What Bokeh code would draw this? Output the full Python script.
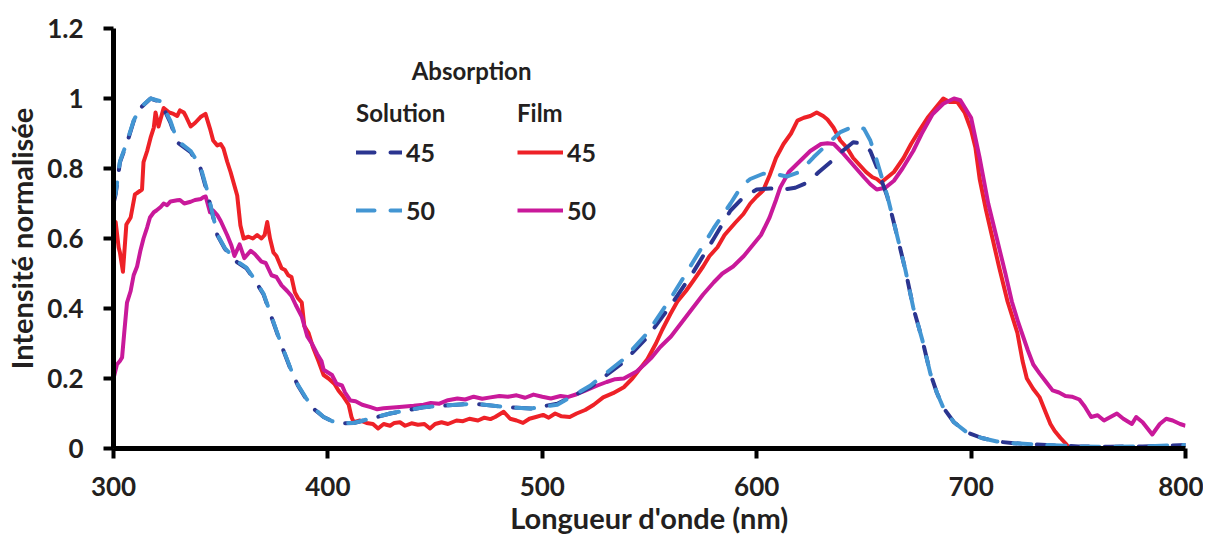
from bokeh.plotting import figure
from bokeh.models import Legend, LegendItem, Label, FixedTicker, NumeralTickFormatter, Range1d
from bokeh.embed import file_html
from bokeh.resources import INLINE

# ---------------- data ----------------
sol45_x = [300, 301, 303, 306.4, 309.4, 312.6, 317.3, 322, 326.6, 329.7, 336, 340.6, 343.7, 346.6,
           348.4, 352, 357.7, 362, 366, 370, 374, 378, 383, 386, 390, 394, 398, 402, 406, 412, 420,
           429, 444.6, 460, 468, 483.8, 494.5, 507, 522.5, 537.9, 549, 560, 570, 580, 587.8, 593.8,
           600, 606.4, 612.5, 618, 623.7, 629, 634.4, 640, 645, 650, 653, 656, 661, 665.7, 669.4,
           673, 677.3, 681, 684, 687, 692, 698, 705, 712, 720, 735, 750, 765, 780, 800]
sol45_y = [0.70, 0.726, 0.818, 0.875, 0.935, 0.973, 1.0, 0.99, 0.93, 0.875, 0.847, 0.80, 0.732, 0.658,
           0.61, 0.57, 0.532, 0.515, 0.48, 0.44, 0.37, 0.30, 0.22, 0.18, 0.14, 0.11, 0.09, 0.078, 0.072,
           0.073, 0.085, 0.10, 0.118, 0.125, 0.128, 0.118, 0.114, 0.128, 0.175, 0.247, 0.318, 0.41,
           0.50, 0.60, 0.68, 0.718, 0.74, 0.743, 0.74, 0.745, 0.76, 0.79, 0.818, 0.85, 0.875, 0.87,
           0.85, 0.804, 0.718, 0.603, 0.509, 0.403, 0.309, 0.214, 0.16, 0.117, 0.075, 0.046, 0.03,
           0.02, 0.015, 0.01, 0.006, 0.005, 0.006, 0.01]

sol50_x = [300, 301, 303, 306.4, 309.4, 312.6, 317.3, 322, 326.6, 329.7, 336, 340.6, 343.7, 346.6,
           348.4, 352, 357.7, 362, 366, 370, 374, 378, 383, 386, 390, 394, 398, 402, 406, 412, 420,
           429, 444.6, 460, 468, 483.8, 494.5, 507, 522.5, 537.9, 549, 560, 570, 580, 587.8, 593,
           597, 603, 608, 614, 620, 626.5, 633, 639, 645, 650, 653, 656, 661, 665.7, 669.4, 673,
           677.3, 681, 684, 687, 692, 698, 705, 712, 720, 735, 750, 765, 780, 800]
sol50_y = [0.71, 0.73, 0.82, 0.878, 0.937, 0.975, 1.0, 0.992, 0.935, 0.88, 0.85, 0.805, 0.737, 0.66,
           0.612, 0.572, 0.535, 0.517, 0.482, 0.442, 0.372, 0.302, 0.222, 0.182, 0.142, 0.112, 0.09,
           0.078, 0.072, 0.073, 0.086, 0.10, 0.118, 0.125, 0.128, 0.118, 0.114, 0.125, 0.18, 0.255,
           0.33, 0.43, 0.53, 0.63, 0.70, 0.75, 0.77, 0.785, 0.785, 0.777, 0.79, 0.832, 0.87, 0.904,
           0.92, 0.914, 0.88, 0.823, 0.72, 0.603, 0.509, 0.403, 0.309, 0.214, 0.16, 0.117, 0.075,
           0.046, 0.03, 0.02, 0.015, 0.01, 0.006, 0.005, 0.006, 0.01]

film45_x = [300, 301, 302.4, 303, 304.4, 306, 308, 310, 311, 313.3, 314, 315.7, 317.3, 318.8, 319.6,
            321, 323.4, 326, 328, 329.7, 331, 332.8, 333.7, 336, 338, 340.6, 342.9, 345, 346.5, 348.4,
            350, 351.3, 353, 354.6, 357.7, 359.2, 360.7, 363, 365, 367, 369, 370.5, 371.7, 373,
            374.6, 376, 378.4, 380, 381.5, 383, 384.6, 386, 387.8, 389, 391, 393, 395.6, 398, 400.3,
            403, 405, 407, 409.7, 411, 412, 415, 418, 421, 423.4, 426, 429, 431, 433.6, 436, 439,
            442, 445, 447.6, 450, 453, 456, 460, 463, 466, 470, 473, 475.8, 478, 482, 485, 488, 491,
            494, 497, 500.4, 503, 506, 509, 512.8, 516, 520, 524, 528.4, 533, 538, 542, 545.8, 549,
            553, 556, 559.8, 563, 567, 570.5, 575, 578, 581.7, 585, 590, 593.8, 597, 600, 603, 606,
            609, 612.5, 616, 619, 622, 625, 628, 631, 633, 635.8, 639, 642, 645, 648, 651, 654, 656,
            658, 661, 664, 668.5, 672, 676, 679.7, 683, 687, 690, 693.6, 697, 700, 702, 704, 707,
            710, 713, 717, 721.6, 724, 726, 729, 732, 735, 737, 739, 741.7, 744, 746, 749, 752, 755,
            758, 762, 765, 768, 772, 776, 780, 785, 790, 795, 800]
film45_y = [0.65, 0.647, 0.574, 0.56, 0.505, 0.64, 0.66, 0.726, 0.73, 0.74, 0.818, 0.85, 0.888, 0.917,
            0.96, 0.92, 0.973, 0.96, 0.956, 0.95, 0.966, 0.96, 0.95, 0.92, 0.93, 0.947, 0.956, 0.914,
            0.88, 0.866, 0.87, 0.857, 0.82, 0.79, 0.723, 0.637, 0.60, 0.605, 0.60, 0.61, 0.60, 0.61,
            0.647, 0.60, 0.56, 0.55, 0.515, 0.51, 0.495, 0.49, 0.446, 0.43, 0.417, 0.35, 0.33, 0.29,
            0.25, 0.21, 0.20, 0.185, 0.165, 0.15, 0.125, 0.09, 0.075, 0.08, 0.073, 0.07, 0.057, 0.07,
            0.065, 0.073, 0.075, 0.065, 0.072, 0.068, 0.07, 0.057, 0.07, 0.075, 0.07, 0.08, 0.078,
            0.085, 0.08, 0.088, 0.084, 0.09, 0.105, 0.085, 0.08, 0.073, 0.085, 0.09, 0.096, 0.088,
            0.10, 0.092, 0.09, 0.10, 0.11, 0.125, 0.146, 0.158, 0.175, 0.20, 0.23, 0.255, 0.30, 0.34,
            0.385, 0.42, 0.45, 0.48, 0.52, 0.55, 0.575, 0.61, 0.645, 0.67, 0.70, 0.72, 0.737, 0.78,
            0.83, 0.87, 0.90, 0.937, 0.945, 0.95, 0.96, 0.95, 0.94, 0.917, 0.88, 0.86, 0.83, 0.81,
            0.79, 0.775, 0.77, 0.76, 0.775, 0.79, 0.83, 0.87, 0.91, 0.945, 0.97, 1.0, 0.99, 0.99,
            0.96, 0.91, 0.86, 0.77, 0.68, 0.60, 0.52, 0.42, 0.33, 0.25, 0.20, 0.17, 0.146, 0.10, 0.07,
            0.05, 0.03, 0.015, 0.0, -0.01, 0.003, -0.012, -0.005, -0.015, -0.003, -0.012, 0.004,
            -0.01, -0.005, -0.015, -0.002, -0.012, -0.005]

film50_x = [300, 301.6, 303, 304, 305, 306.3, 308, 309.4, 311, 312.5, 314, 315.7, 317, 318.8, 320,
            322, 323.4, 325, 326.6, 329.7, 331, 333, 336, 338, 340.8, 342, 343, 345, 346.5, 348.4,
            350, 353, 355, 356.4, 358.8, 361, 364, 366, 369, 371, 373.7, 376, 378.4, 381, 383, 385,
            387.8, 390.4, 392.5, 395, 397, 398, 401.9, 404, 406.6, 408, 410.5, 412.9, 416, 419.9,
            423, 426, 432, 436, 440, 444.6, 448, 452, 456, 460.4, 464, 468, 472, 475.8, 480, 484,
            488, 492, 495.9, 500, 504, 508.5, 511.8, 516, 520, 525.7, 530, 534, 538, 541, 544, 547.6,
            551, 555, 560, 565, 570, 575, 580, 584, 589, 594, 598, 602, 606, 609, 611, 615, 620, 625,
            630, 633, 636, 640, 645, 650, 653, 656, 660, 664, 668, 673, 677, 682, 687, 692, 695, 700,
            704, 708, 712, 716, 719, 722, 726.5, 729, 732, 735, 738, 741, 744, 747, 750.5, 753, 756,
            759, 762, 765, 768, 771, 775, 777, 780, 784.5, 788, 791, 794, 797.5, 800]
film50_y = [0.20, 0.24, 0.25, 0.26, 0.33, 0.417, 0.45, 0.495, 0.52, 0.564, 0.60, 0.632, 0.66, 0.675,
            0.68, 0.69, 0.70, 0.695, 0.706, 0.709, 0.71, 0.70, 0.705, 0.71, 0.713, 0.718, 0.72, 0.675,
            0.68, 0.667, 0.65, 0.61, 0.58, 0.55, 0.583, 0.544, 0.565, 0.555, 0.534, 0.53, 0.495,
            0.49, 0.466, 0.45, 0.436, 0.41, 0.377, 0.32, 0.30, 0.27, 0.25, 0.225, 0.21, 0.185, 0.18,
            0.16, 0.137, 0.135, 0.125, 0.118, 0.112, 0.115, 0.118, 0.12, 0.122, 0.125, 0.13, 0.128,
            0.138, 0.143, 0.14, 0.148, 0.142, 0.146, 0.15, 0.148, 0.152, 0.145, 0.154, 0.148, 0.143,
            0.15, 0.147, 0.155, 0.165, 0.18, 0.19, 0.198, 0.20, 0.21, 0.22, 0.24, 0.26, 0.29, 0.32,
            0.36, 0.40, 0.44, 0.475, 0.50, 0.52, 0.55, 0.58, 0.61, 0.66, 0.71, 0.746, 0.79, 0.82,
            0.85, 0.87, 0.872, 0.87, 0.845, 0.81, 0.775, 0.755, 0.74, 0.745, 0.765, 0.80, 0.85, 0.90,
            0.955, 0.985, 1.0, 0.995, 0.945, 0.83, 0.70, 0.60, 0.50, 0.42, 0.36, 0.28, 0.24, 0.214,
            0.19, 0.166, 0.16, 0.15, 0.148, 0.14, 0.12, 0.09, 0.095, 0.08, 0.09, 0.10, 0.085, 0.07,
            0.09, 0.075, 0.04, 0.07, 0.085, 0.08, 0.07, 0.065]

x_ticks = [300, 400, 500, 600, 700, 800]
y_ticks = [0, 0.2, 0.4, 0.6, 0.8, 1.0, 1.2]

# ---------------- style ----------------
FONT = "Lato"
TXT = "#231F20"
C_SOL45 = "#2B3590"
C_SOL50 = "#4396D3"
C_FILM45 = "#EE2127"
C_FILM50 = "#C9199A"

p = figure(frame_width=1072, frame_height=420, output_backend="svg", toolbar_location=None,
           x_range=Range1d(300, 800), y_range=Range1d(0, 1.2),
           min_border_left=113, min_border_top=28, min_border_right=18, min_border_bottom=60)
p.outline_line_color = None
p.grid.visible = False
p.background_fill_color = "white"

w = 4
r_f45 = p.line(film45_x, film45_y, line_color=C_FILM45, line_width=w, line_join="round")
r_f50 = p.line(film50_x, film50_y, line_color=C_FILM50, line_width=w, line_join="round")
r_s45 = p.line(sol45_x, sol45_y, line_color=C_SOL45, line_width=w, line_dash="18 16",
               line_cap="round", line_join="round")
r_s50 = p.line(sol50_x, sol50_y, line_color=C_SOL50, line_width=w, line_dash="18 16",
               line_cap="round", line_join="round")

for ax in (p.xaxis[0], p.yaxis[0]):
    ax.axis_line_width = 5
    ax.axis_line_color = "black"
    ax.major_tick_line_width = 4
    ax.major_tick_line_color = "black"
    ax.major_tick_in = 0
    ax.major_tick_out = 10
    ax.minor_tick_line_color = None
    ax.major_label_text_font = FONT
    ax.major_label_text_font_style = "bold"
    ax.major_label_text_font_size = "26px"
    ax.major_label_text_color = TXT
    ax.axis_label_text_font = FONT
    ax.axis_label_text_font_style = "bold"
    ax.axis_label_text_font_size = "29px"
    ax.axis_label_text_color = TXT

p.xaxis[0].ticker = FixedTicker(ticks=x_ticks)
p.yaxis[0].ticker = FixedTicker(ticks=y_ticks)
p.yaxis[0].formatter = NumeralTickFormatter(format="0.[0]")
p.xaxis[0].axis_label = "Longueur d'onde (nm)"
p.yaxis[0].axis_label = "Intensité normalisée"
p.xaxis[0].major_label_standoff = 18
p.xaxis[0].axis_label_standoff = 1
p.yaxis[0].major_label_standoff = 20
p.yaxis[0].axis_label_standoff = 5

def make_legend(title, items, loc):
    lg = Legend(items=items, title=title, location=loc)
    lg.title_text_font = FONT
    lg.title_text_font_style = "bold"
    lg.title_text_font_size = "24px"
    lg.title_text_color = TXT
    lg.title_standoff = 10
    lg.label_text_font = FONT
    lg.label_text_font_style = "bold"
    lg.label_text_font_size = "25px"
    lg.label_text_color = TXT
    lg.label_standoff = 4
    lg.glyph_width = 46
    lg.glyph_height = 30
    lg.label_height = 30
    lg.spacing = 28
    lg.padding = 0
    lg.margin = 0
    lg.border_line_color = None
    lg.background_fill_alpha = 0
    return lg

leg_sol = make_legend("Solution", [LegendItem(label="45", renderers=[r_s45]),
                                   LegendItem(label="50", renderers=[r_s50])], (243, 223))
leg_film = make_legend("Film", [LegendItem(label="45", renderers=[r_f45]),
                                LegendItem(label="50", renderers=[r_f50])], (404, 223))
p.add_layout(leg_sol, "center")
p.add_layout(leg_film, "center")

p.add_layout(Label(x=467, y=1.08, text="Absorption", text_align="center", text_baseline="middle",
                   text_font=FONT, text_font_style="bold", text_font_size="24px", text_color=TXT))

open("out.html", "w").write(file_html(p, INLINE))
